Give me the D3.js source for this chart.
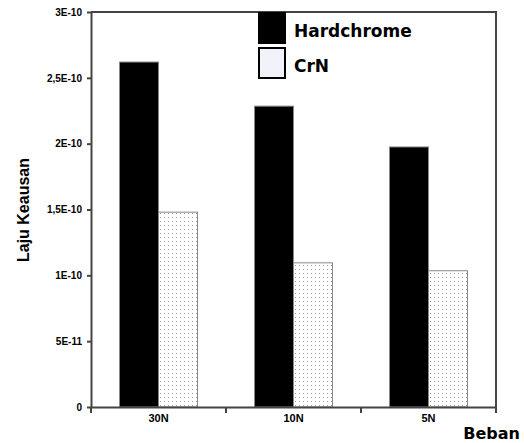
<!DOCTYPE html>
<html>
<head>
<meta charset="utf-8">
<script src="https://cdn.jsdelivr.net/npm/d3@7"></script>
<style>
  body { margin: 0; background: #fff; }
  svg { display: block; }
</style>
</head>
<body>
<div id="chart"></div>
<script>
// data
const categories = ['30N', '10N', '5N'];
const hardchrome = [2.62e-10, 2.285e-10, 1.975e-10];
const crn = [1.48e-10, 1.095e-10, 1.035e-10];
const yTicks = [0, 5e-11, 1e-10, 1.5e-10, 2e-10, 2.5e-10, 3e-10];
const yTickLabels = ['0', '5E-11', '1E-10', '1,5E-10', '2E-10', '2,5E-10', '3E-10'];
const seriesNames = ['Hardchrome', 'CrN'];

const width = 524;
const height = 443;
const margin = { top: 12, right: 28, bottom: 36, left: 91 };
const innerW = 496 - margin.left;
const innerH = 407 - margin.top;

const svg = d3.select('#chart').append('svg')
  .attr('width', width)
  .attr('height', height);

// dotted fill for CrN
const defs = svg.append('defs');
const pat = defs.append('pattern')
  .attr('id', 'dots')
  .attr('patternUnits', 'userSpaceOnUse')
  .attr('width', 4)
  .attr('height', 4);
pat.append('rect').attr('width', 4).attr('height', 4).attr('fill', '#fff');
pat.append('rect').attr('x', 1).attr('y', 1).attr('width', 1).attr('height', 1).attr('fill', '#999');

const g = svg.append('g').attr('transform', `translate(${margin.left},${margin.top})`);

const x = d3.scaleBand().domain(categories).range([0, innerW]);
const xs = d3.scaleBand().domain(seriesNames).range([0, x.bandwidth()]).paddingOuter(0.73).paddingInner(0);
const y = d3.scaleLinear().domain([0, 3e-10]).range([innerH, 0]);

// frame (top and right)
g.append('path')
  .attr('d', `M0,0H${innerW}V${innerH}`)
  .attr('fill', 'none')
  .attr('stroke', '#444')
  .attr('stroke-width', 2);

const rows = categories.map((c, i) => ({ c, vals: [hardchrome[i], crn[i]] }));

const grp = g.selectAll('.grp').data(rows).enter().append('g')
  .attr('transform', d => `translate(${x(d.c)},0)`);

grp.selectAll('rect')
  .data(d => d.vals.map((v, k) => ({ v, s: seriesNames[k] })))
  .enter().append('rect')
  .attr('x', d => xs(d.s))
  .attr('width', xs.bandwidth())
  .attr('y', d => y(d.v))
  .attr('height', d => innerH - y(d.v))
  .attr('fill', d => d.s === 'Hardchrome' ? '#000' : 'url(#dots)')
  .attr('stroke', '#888')
  .attr('stroke-width', 1);

// y axis
const yAxis = g.append('g')
  .call(d3.axisLeft(y).tickValues(yTicks).tickFormat((d, i) => yTickLabels[i]).tickSize(4).tickSizeOuter(0));
yAxis.select('.domain').attr('stroke', '#444').attr('stroke-width', 2);
yAxis.selectAll('.tick line').attr('stroke', '#444').attr('stroke-width', 2);
yAxis.selectAll('.tick text')
  .attr('x', -9)
  .attr('font-family', 'Liberation Sans, Arial, sans-serif')
  .attr('font-weight', 'bold')
  .attr('font-size', 10)
  .attr('fill', '#000');

// x axis
const xAxis = g.append('g')
  .attr('transform', `translate(0,${innerH})`)
  .call(d3.axisBottom(x).tickSize(0).tickSizeOuter(0));
xAxis.select('.domain').attr('stroke', '#444').attr('stroke-width', 2);
xAxis.selectAll('.tick text')
  .attr('dy', 0)
  .attr('y', 15)
  .attr('font-family', 'Liberation Sans, Arial, sans-serif')
  .attr('font-weight', 'bold')
  .attr('font-size', 11)
  .attr('fill', '#000');

// x boundary ticks between groups
const edges = categories.map(c => x(c)).concat([innerW]);
xAxis.selectAll('.edge').data(edges).enter().append('line')
  .attr('x1', d => d).attr('x2', d => d)
  .attr('y1', 0).attr('y2', 6)
  .attr('stroke', '#444').attr('stroke-width', 2);

// axis titles
svg.append('text')
  .attr('transform', 'translate(29,210) rotate(-90)')
  .attr('text-anchor', 'middle')
  .attr('font-family', 'Liberation Sans, Arial, sans-serif')
  .attr('font-weight', 'bold')
  .attr('font-size', 16)
  .text('Laju Keausan');

svg.append('text')
  .attr('x', 520)
  .attr('y', 439)
  .attr('text-anchor', 'end')
  .attr('font-family', 'DejaVu Sans, sans-serif')
  .attr('font-weight', 'bold')
  .attr('font-size', 16)
  .text('Beban');

// legend
const legend = svg.append('g').attr('transform', 'translate(258,12)');
const li = legend.selectAll('g').data(seriesNames).enter().append('g')
  .attr('transform', (d, i) => `translate(0,${i * 35})`);
li.append('rect')
  .attr('x', d => d === 'CrN' ? 1 : 0)
  .attr('y', d => d === 'CrN' ? 1 : 0)
  .attr('width', d => d === 'CrN' ? 26 : 28)
  .attr('height', d => d === 'CrN' ? 30 : 32)
  .attr('fill', d => d === 'CrN' ? '#f1f2fa' : '#000')
  .attr('stroke', '#000')
  .attr('stroke-width', d => d === 'CrN' ? 2 : 0);
li.append('text')
  .attr('x', 36)
  .attr('y', 25)
  .attr('font-family', 'DejaVu Sans, sans-serif')
  .attr('font-weight', 'bold')
  .attr('font-size', 17)
  .text(d => d);
</script>
</body>
</html>
